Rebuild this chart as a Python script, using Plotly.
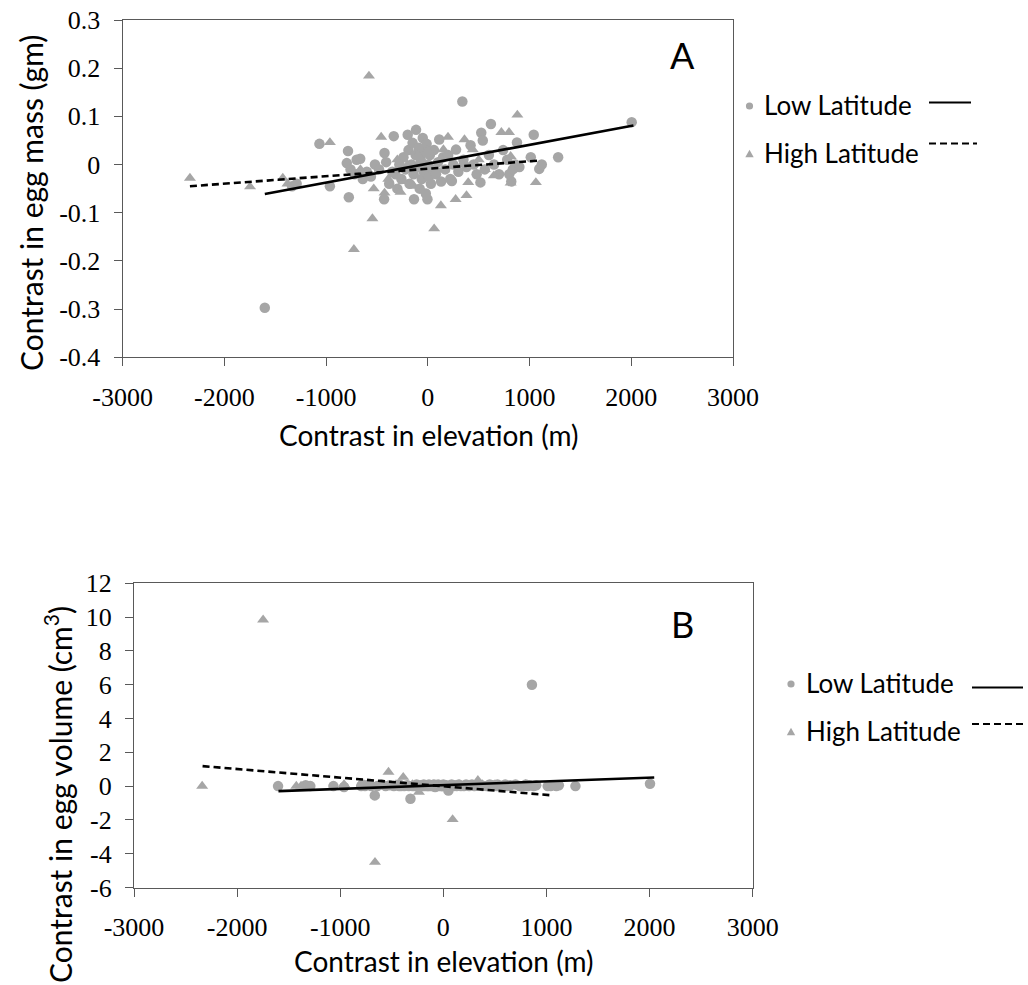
import plotly.graph_objects as go

W, H = 1028, 985

# ---------------- data ----------------
low_elev = [-1603, -1335, -1290, -1066, -963, -785, -797, -777, -760, -720, -700, -665, -640, -600,
            -560, -520, -480, -430, -426, -410, -380, -350, -335, -319, -300, -280, -260, -240,
            -220, -198, -190, -180, -160, -150, -140, -136, -120, -116, -100, -90, -80, -70, -60,
            -50, -40, -30, -20, -12, -4, 0, 10, 20, 30, 49, 60, 80, 100, 112, 130, 150, 170, 200,
            220, 236, 250, 277, 300, 339, 350, 380, 420, 450, 480, 517, 525, 540, 560, 600, 620,
            650, 700, 740, 780, 800, 820, 835, 859, 876, 900, 1012, 1041, 1095, 1120, 1281, 2004]
low_mass = [-0.297, -0.045, -0.040, 0.043, -0.045, 0.028, 0.003, -0.068, -0.010, -0.020, 0.010, 0.012,
            -0.030, -0.015, -0.025, 0.000, -0.010, -0.072, 0.024, 0.005, -0.040, -0.015, 0.059, -0.020,
            -0.050, 0.000, -0.030, 0.015, -0.010, 0.062, 0.030, -0.040, 0.000, 0.045, -0.020, -0.072,
            0.020, 0.072, -0.005, 0.035, -0.050, 0.010, -0.030, 0.055, -0.015, 0.025, -0.060, 0.043,
            -0.072, 0.000, -0.025, 0.020, -0.040, -0.010, 0.030, -0.020, 0.005, 0.052, -0.035, 0.015,
            -0.010, 0.020, -0.030, -0.034, 0.000, 0.031, -0.015, 0.131, 0.010, -0.005, 0.040, 0.000,
            -0.020, -0.037, 0.066, 0.050, -0.010, 0.020, 0.084, 0.000, -0.020, 0.030, 0.010, -0.020,
            -0.035, -0.010, 0.000, 0.046, -0.005, 0.015, 0.062, -0.009, 0.000, 0.015, 0.088]
low_vol = [0.0, 0.05, 0.0, 0.0, -0.05, 0.1, 0.0, 0.05, 0.0, 0.1, 0.0, -0.55, 0.0, 0.1,
           0.0, 0.05, 0.0, 0.0, 0.1, 0.0, 0.0, 0.05, 0.0, -0.75, 0.0, 0.0, 0.1, 0.0,
           0.05, 0.0, 0.1, 0.0, 0.0, 0.0, 0.1, 0.0, 0.05, 0.0, 0.0, 0.1, -0.05, 0.0, 0.0,
           0.1, 0.0, 0.05, 0.0, 0.0, 0.0, 0.1, 0.0, 0.0, 0.05, -0.26, 0.0, 0.1, 0.0, 0.05, 0.0, 0.1, 0.0, 0.0,
           0.1, 0.05, 0.0, 0.1, 0.0, 0.05, 0.1, 0.0, 0.0, 0.1, 0.05, 0.0, 0.1, 0.0, 0.0, 0.1, 0.0,
           0.05, 0.1, 0.0, 0.0, 0.1, 0.0, 0.05, 6.0, 0.0, 0.05, 0.0, 0.0, 0.0, 0.05, 0.0, 0.14]

high_elev = [-2339, -1748, -1426, -1380, -963, -727, -700, -663, -579, -545, -532, -459, -426, -389,
             -343, -300, -269, -237, -200, -136, -100, -60, 0, 62, 90, 128, 153, 198, 273, 335, 360,
             380, 397, 442, 500, 560, 649, 723, 798, 814, 814, 830, 880, 1062]
high_mass = [-0.028, -0.046, -0.028, -0.040, 0.046, -0.176, -0.020, -0.010, 0.184, -0.112, -0.050,
             0.057, -0.059, -0.030, -0.021, 0.010, -0.057, -0.035, 0.000, -0.045, 0.020, -0.010, 0.030,
             -0.133, -0.010, -0.085, 0.031, 0.057, -0.072, 0.000, 0.052, -0.064, -0.037, 0.031, 0.010,
             -0.010, -0.023, 0.067, 0.067, 0.017, -0.038, -0.010, 0.103, -0.037]
high_vol = [0.0, 9.84, 0.0, 0.0, 0.1, 0.0, 0.0, -4.5, 0.0, 0.0, 0.83, 0.1, 0.0, 0.53,
            0.0, 0.1, 0.0, -0.35, 0.0, 0.0, 0.1, 0.0, 0.05, 0.0, -1.97, 0.0, 0.1, 0.0, 0.0, 0.34, 0.0,
            0.1, 0.0, 0.0, 0.1, 0.0, 0.05, 0.0, 0.1, 0.0, 0.0, 0.05, 0.0, 0.0]

# fitted trend lines (end points as drawn in the reference)
fitA_low_x = [-1603, 2021]
fitA_low_y = [-0.061, 0.081]
fitA_high_x = [-2339, 1074]
fitA_high_y = [-0.045, 0.008]
fitB_low_x = [-1599, 2045]
fitB_low_y = [-0.30, 0.51]
fitB_high_x = [-2335, 1059]
fitB_high_y = [1.18, -0.55]

x_ticks = [-3000, -2000, -1000, 0, 1000, 2000, 3000]
x_tick_text = ["-3000", "-2000", "-1000", "0", "1000", "2000", "3000"]
yA_ticks = [0.3, 0.2, 0.1, 0, -0.1, -0.2, -0.3, -0.4]
yA_tick_text = ["0.3", "0.2", "0.1", "0", "-0.1", "-0.2", "-0.3", "-0.4"]
yB_ticks = [12, 10, 8, 6, 4, 2, 0, -2, -4, -6]
yB_tick_text = ["12", "10", "8", "6", "4", "2", "0", "-2", "-4", "-6"]

series_names = ["Low Latitude", "High Latitude"]

# ---------------- styling ----------------
GRAY = "#A6A6A6"
AXC = "#595959"
TICKFONT = dict(family="Liberation Serif", size=26, color="#000000")
SANS = "Lato"


def fx(px):
    return px / W


def fy(py):
    return 1 - py / H


fig = go.Figure()

mk = dict(color=GRAY, size=10.5, line=dict(width=0))
# Panel A
fig.add_trace(go.Scatter(x=low_elev, y=low_mass, mode="markers", marker=dict(symbol="circle", **mk),
                         xaxis="x", yaxis="y", name=series_names[0]))
fig.add_trace(go.Scatter(x=high_elev, y=high_mass, mode="markers", marker=dict(symbol="triangle-up", **mk),
                         xaxis="x", yaxis="y", name=series_names[1]))
fig.add_trace(go.Scatter(x=fitA_low_x, y=fitA_low_y, mode="lines", line=dict(color="black", width=2.6),
                         xaxis="x", yaxis="y"))
fig.add_trace(go.Scatter(x=fitA_high_x, y=fitA_high_y, mode="lines",
                         line=dict(color="black", width=2.6, dash="7px,4px"), xaxis="x", yaxis="y"))
# Panel B
fig.add_trace(go.Scatter(x=low_elev, y=low_vol, mode="markers", marker=dict(symbol="circle", **mk),
                         xaxis="x2", yaxis="y2", name=series_names[0]))
fig.add_trace(go.Scatter(x=high_elev, y=high_vol, mode="markers", marker=dict(symbol="triangle-up", **mk),
                         xaxis="x2", yaxis="y2", name=series_names[1]))
fig.add_trace(go.Scatter(x=fitB_low_x, y=fitB_low_y, mode="lines", line=dict(color="black", width=2.6),
                         xaxis="x2", yaxis="y2"))
fig.add_trace(go.Scatter(x=fitB_high_x, y=fitB_high_y, mode="lines",
                         line=dict(color="black", width=2.6, dash="7px,4px"), xaxis="x2", yaxis="y2"))

common_ax = dict(showgrid=False, zeroline=False, showline=True, linecolor=AXC, linewidth=1.3,
                 mirror=True, ticks="outside", ticklen=8, tickcolor=AXC, tickwidth=1.3,
                 tickfont=TICKFONT, ticklabelstandoff=8, automargin=False)

fig.update_layout(
    template="none",
    width=W, height=H, margin=dict(l=0, r=0, t=0, b=0, pad=0, autoexpand=False),
    paper_bgcolor="white", plot_bgcolor="white", showlegend=False,
    xaxis=dict(domain=[fx(122.7), fx(733)], range=[-3000, 3000], tickvals=x_ticks, ticktext=x_tick_text,
               anchor="y", **common_ax),
    yaxis=dict(domain=[fy(357.3), fy(20)], range=[-0.4, 0.3], tickvals=yA_ticks, ticktext=yA_tick_text,
               anchor="x", **common_ax),
    xaxis2=dict(domain=[fx(134), fx(752.7)], range=[-3000, 3000], tickvals=x_ticks, ticktext=x_tick_text,
                anchor="y2", **common_ax),
    yaxis2=dict(domain=[fy(887.5), fy(583.3)], range=[-6, 12], tickvals=yB_ticks, ticktext=yB_tick_text,
                anchor="x2", **common_ax),
)

ann = []
tf = dict(family=SANS, size=28, color="black")
tfy = dict(family=SANS, size=30, color="black")
ann.append(dict(x=fx(428), y=fy(435), xref="paper", yref="paper", text="Contrast in elevation (m)",
                showarrow=False, font=tf, xanchor="center", yanchor="middle"))
ann.append(dict(x=fx(443), y=fy(961), xref="paper", yref="paper", text="Contrast in elevation (m)",
                showarrow=False, font=tf, xanchor="center", yanchor="middle"))
ann.append(dict(x=fx(31), y=fy(203), xref="paper", yref="paper", text="Contrast in egg mass (gm)",
                showarrow=False, font=tfy, textangle=-90, xanchor="center", yanchor="middle"))
ann.append(dict(x=fx(58), y=fy(795), xref="paper", yref="paper", text="Contrast in egg volume (cm<sup>3</sup>)",
                showarrow=False, font=tfy, textangle=-90, xanchor="center", yanchor="middle"))
ann.append(dict(x=fx(682), y=fy(55), xref="paper", yref="paper", text="A", showarrow=False,
                font=dict(family=SANS, size=36, color="black"), xanchor="center", yanchor="middle"))
ann.append(dict(x=fx(682), y=fy(624), xref="paper", yref="paper", text="B", showarrow=False,
                font=dict(family=SANS, size=36, color="black"), xanchor="center", yanchor="middle"))

shapes = []
lf = dict(family=SANS, size=26, color="black")


def legend(xm, y_low, y_high, xt, line_x0, line_x1, yl_low, yl_high):
    r = 3.6
    shapes.append(dict(type="circle", xref="paper", yref="paper", x0=fx(xm - r), x1=fx(xm + r),
                       y0=fy(y_low + r), y1=fy(y_low - r), fillcolor=GRAY, line=dict(width=0)))
    s = 4.2
    path = "M {} {} L {} {} L {} {} Z".format(fx(xm - s), fy(y_high + s * 0.8), fx(xm + s), fy(y_high + s * 0.8),
                                              fx(xm), fy(y_high - s))
    shapes.append(dict(type="path", xref="paper", yref="paper", path=path, fillcolor=GRAY, line=dict(width=0)))
    ann.append(dict(x=fx(xt), y=fy(y_low - 1), xref="paper", yref="paper", text=series_names[0], showarrow=False,
                    font=lf, xanchor="left", yanchor="middle"))
    ann.append(dict(x=fx(xt), y=fy(y_high - 1), xref="paper", yref="paper", text=series_names[1], showarrow=False,
                    font=lf, xanchor="left", yanchor="middle"))
    shapes.append(dict(type="line", xref="paper", yref="paper", x0=fx(line_x0), x1=fx(line_x1[0]),
                       y0=fy(yl_low), y1=fy(yl_low), line=dict(color="black", width=2)))
    shapes.append(dict(type="line", xref="paper", yref="paper", x0=fx(line_x0), x1=fx(line_x1[1]),
                       y0=fy(yl_high), y1=fy(yl_high), line=dict(color="black", width=2, dash="7px,4px")))


legend(749.5, 106, 154, 762, 929, (971, 977), 102.5, 143.5)
legend(791, 684, 732, 804, 972, (1023, 1024), 687.5, 724)

fig.update_layout(annotations=ann, shapes=shapes)
fig.write_html("out.html")
